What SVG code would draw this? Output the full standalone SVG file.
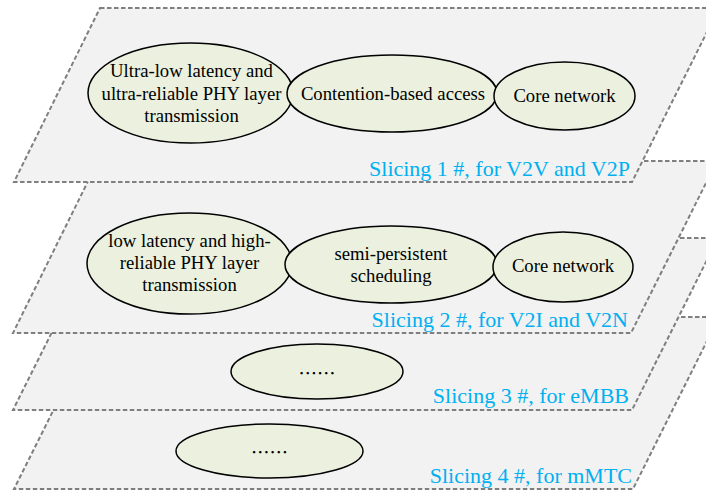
<svg xmlns="http://www.w3.org/2000/svg" width="706" height="490" viewBox="0 0 706 490">
<style>
.plane{fill:#f2f2f2;stroke:#7f7f7f;stroke-width:2;stroke-dasharray:4.5 2.5}
.node{fill:#ebf1de;stroke:#000;stroke-width:1.5}
.t{font-family:"Liberation Serif","Times New Roman",serif;font-size:18.7px;fill:#000;text-anchor:middle}
.dots{font-family:"Noto Sans CJK SC","Liberation Serif",sans-serif;font-size:18.5px;fill:#000;text-anchor:middle}
.lbl{font-family:"Liberation Serif","Times New Roman",serif;font-size:22px;fill:#00b0f0;text-anchor:end}
</style>
<rect width="706" height="490" fill="#fff"/>
<g id="slice4">
<polygon class="plane" points="100,317 719,317 633,489 14,489"/>
<g id="s4-node"><ellipse class="node" cx="269.5" cy="451" rx="93.5" ry="27"/><text class="dots" x="269.5" y="451" dominant-baseline="central">……</text></g>
<text id="s4-label" class="lbl" x="632" y="483">Slicing 4 #, for mMTC</text>
</g>
<g id="slice3">
<polygon class="plane" points="99,238 718,238 632,410 13,410"/>
<g id="s3-node"><ellipse class="node" cx="317" cy="371.5" rx="86" ry="27.5"/><text class="dots" x="317" y="371.5" dominant-baseline="central">……</text></g>
<text id="s3-label" class="lbl" x="629" y="403">Slicing 3 #, for eMBB</text>
</g>
<g id="slice2">
<polygon class="plane" points="98,161 717,161 631,333 13,333"/>
<g id="s2-phy"><ellipse class="node" cx="189.5" cy="263.5" rx="102.5" ry="50.5"/><text class="t" x="189.5" y="247">low latency and high-</text><text class="t" x="189.5" y="269">reliable PHY layer</text><text class="t" x="189.5" y="291">transmission</text></g>
<g id="s2-sps"><ellipse class="node" cx="391" cy="264.5" rx="106" ry="38.5"/><text class="t" x="391" y="260">semi-persistent</text><text class="t" x="391" y="282">scheduling</text></g>
<g id="s2-core"><ellipse class="node" cx="563" cy="267" rx="70" ry="35"/><text class="t" x="563" y="272">Core network</text></g>
<text id="s2-label" class="lbl" x="628" y="327">Slicing 2 #, for V2I and V2N</text>
</g>
<g id="slice1">
<polygon class="plane" points="100,8 719,8 632,182 14,182"/>
<g id="s1-phy"><ellipse class="node" cx="190.5" cy="93" rx="102.5" ry="50"/><text class="t" x="191.5" y="77">Ultra-low latency and</text><text class="t" x="191.5" y="100">ultra-reliable PHY layer</text><text class="t" x="191.5" y="122">transmission</text></g>
<g id="s1-cba"><ellipse class="node" cx="392" cy="93.5" rx="105" ry="38.5"/><text class="t" x="393" y="100">Contention-based access</text></g>
<g id="s1-core"><ellipse class="node" cx="564.5" cy="96" rx="70.5" ry="34"/><text class="t" x="564.5" y="102">Core network</text></g>
<text id="s1-label" class="lbl" x="630" y="176">Slicing 1 #, for V2V and V2P</text>
</g>
<g id="connectors"/>
</svg>
